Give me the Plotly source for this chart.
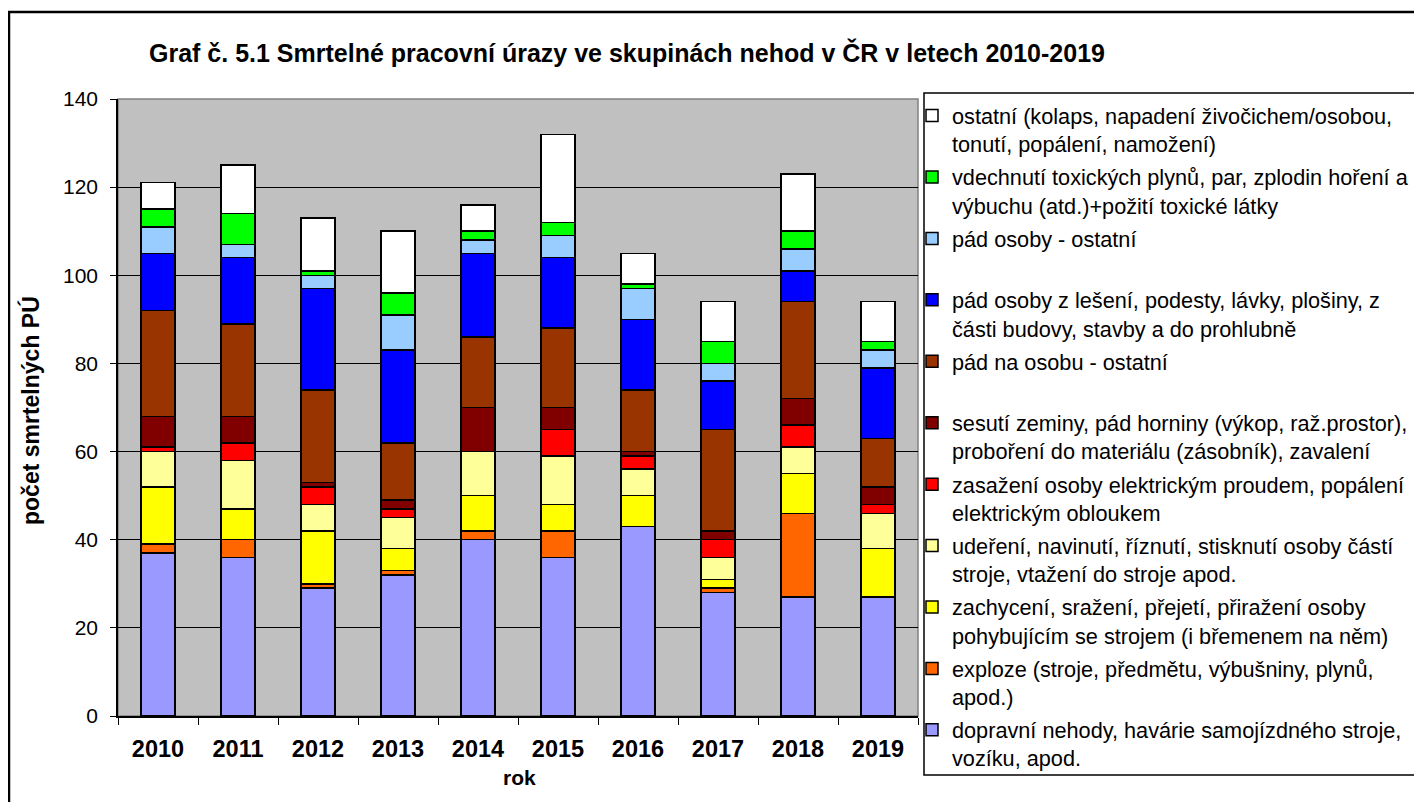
import plotly.graph_objects as go

years = ["2010", "2011", "2012", "2013", "2014", "2015", "2016", "2017", "2018", "2019"]

# series, bottom to top of the stack
names = [
    "dopravní nehody, havárie samojízdného stroje,<br>vozíku, apod.",
    "exploze (stroje, předmětu, výbušniny, plynů,<br>apod.)",
    "zachycení, sražení, přejetí, přiražení osoby<br>pohybujícím se strojem (i břemenem na něm)",
    "udeření, navinutí, říznutí, stisknutí osoby částí<br>stroje, vtažení do stroje apod.",
    "zasažení osoby elektrickým proudem, popálení<br>elektrickým obloukem",
    "sesutí zeminy, pád horniny (výkop, raž.prostor),<br>proboření do materiálu (zásobník), zavalení",
    "pád na osobu - ostatní<br>\u00a0",
    "pád osoby z lešení, podesty, lávky, plošiny, z<br>části budovy, stavby a do prohlubně",
    "pád osoby - ostatní<br>\u00a0",
    "vdechnutí toxických plynů, par, zplodin hoření a<br>výbuchu (atd.)+požití toxické látky",
    "ostatní (kolaps, napadení živočichem/osobou,<br>tonutí, popálení, namožení)",
]

dopravni   = [37, 36, 29, 32, 40, 36, 43, 28, 27, 27]
exploze    = [2, 4, 1, 1, 2, 6, 0, 1, 19, 0]
zachyceni  = [13, 7, 12, 5, 8, 6, 7, 2, 9, 11]
udereni    = [8, 11, 6, 7, 10, 11, 6, 5, 6, 8]
zasazeni   = [1, 4, 4, 2, 0, 6, 3, 4, 5, 2]
sesuti     = [7, 6, 1, 2, 10, 5, 1, 2, 6, 4]
pad_na     = [24, 21, 21, 13, 16, 18, 14, 23, 22, 11]
pad_lesen  = [13, 15, 23, 21, 19, 16, 16, 11, 7, 16]
pad_ost    = [6, 3, 3, 8, 3, 5, 7, 4, 5, 4]
vdechnuti  = [4, 7, 1, 5, 2, 3, 1, 5, 4, 2]
ostatni    = [6, 11, 12, 14, 6, 20, 7, 9, 13, 9]

series = [dopravni, exploze, zachyceni, udereni, zasazeni, sesuti,
          pad_na, pad_lesen, pad_ost, vdechnuti, ostatni]
colors = ["#9999FF", "#FF6600", "#FFFF00", "#FFFF99", "#FF0000", "#800000",
          "#993300", "#0000FF", "#99CCFF", "#00FF00", "#FFFFFF"]

FONT = "Liberation Sans, Arial, sans-serif"

fig = go.Figure()
for i, (nm, vals, col) in enumerate(zip(names, series, colors)):
    fig.add_trace(go.Bar(
        x=years, y=vals, name=nm, legendgroup=f"g{i}", legendrank=100 - i,
        marker=dict(color=col, line=dict(color="black", width=1.5)),
    ))

# page body has an 8px margin: figure origin sits at screen (8, 8)
OFF = 8
W, H = 1422 - OFF, 802 - OFF
# plot area in screen pixels
SL, SR, ST, SB = 118, 918, 99, 716
L, R, T, B = SL - OFF, SR - OFF, ST - OFF, SB - OFF
pw, ph = R - L, B - T

def px(sx):
    return (sx - OFF - L) / pw

def py(sy):
    return (B - (sy - OFF)) / ph

fig.update_layout(
    width=W, height=H,
    margin=dict(l=L, r=W - R, t=T, b=H - B, autoexpand=False),
    barmode="stack", bargap=0.57,
    plot_bgcolor="#C0C0C0", paper_bgcolor="white",
    font=dict(family=FONT, color="black"),
    showlegend=True,
    legend=dict(
        x=px(912), y=py(95), xanchor="left", yanchor="top",
        traceorder="grouped", tracegroupgap=2, valign="top",
        font=dict(family=FONT, size=21.7, color="black"),
        bgcolor="rgba(0,0,0,0)", borderwidth=0, maxheight=760,
    ),
    xaxis=dict(
        type="category", showline=True, linecolor="black", linewidth=1.5,
        ticks="outside", tickson="boundaries", ticklen=7, tickcolor="black",
        tickfont=dict(family=FONT, size=23.5, color="black", weight="bold"),
        ticklabelstandoff=11, showgrid=False,
    ),
    yaxis=dict(
        range=[0, 140], dtick=20, showline=True, linecolor="black", linewidth=1.5,
        ticks="outside", ticklen=6, tickcolor="black",
        tickfont=dict(family=FONT, size=21, color="black"),
        ticklabelstandoff=8,
        showgrid=True, gridcolor="black", gridwidth=1, zeroline=False,
    ),
    shapes=[
        dict(type="rect", xref="paper", yref="paper", x0=0, x1=1, y0=0, y1=1,
             line=dict(color="#808080", width=1.5), layer="below"),
        dict(type="rect", xref="paper", yref="paper",
             x0=px(924), x1=px(1419), y0=py(775), y1=py(93),
             line=dict(color="black", width=1.5)),
        dict(type="rect", xref="paper", yref="paper",
             x0=px(9), x1=px(1440), y0=py(830), y1=py(12),
             line=dict(color="black", width=2.5)),
    ],
    annotations=[
        dict(text="Graf č. 5.1 Smrtelné pracovní úrazy ve skupinách nehod v ČR v letech 2010-2019",
             xref="paper", yref="paper", x=px(627), y=py(52),
             xanchor="center", yanchor="middle", showarrow=False,
             font=dict(family=FONT, size=25, color="black", weight="bold")),
        dict(text="počet smrtelných PÚ", xref="paper", yref="paper",
             x=px(31), y=py(411), xanchor="center", yanchor="middle",
             textangle=-90, showarrow=False,
             font=dict(family=FONT, size=23, color="black", weight="bold")),
        dict(text="rok", xref="paper", yref="paper", x=px(519), y=py(777),
             xanchor="center", yanchor="middle", showarrow=False,
             font=dict(family=FONT, size=21, color="black", weight="bold")),
    ],
)

fig.write_html("out.html")
